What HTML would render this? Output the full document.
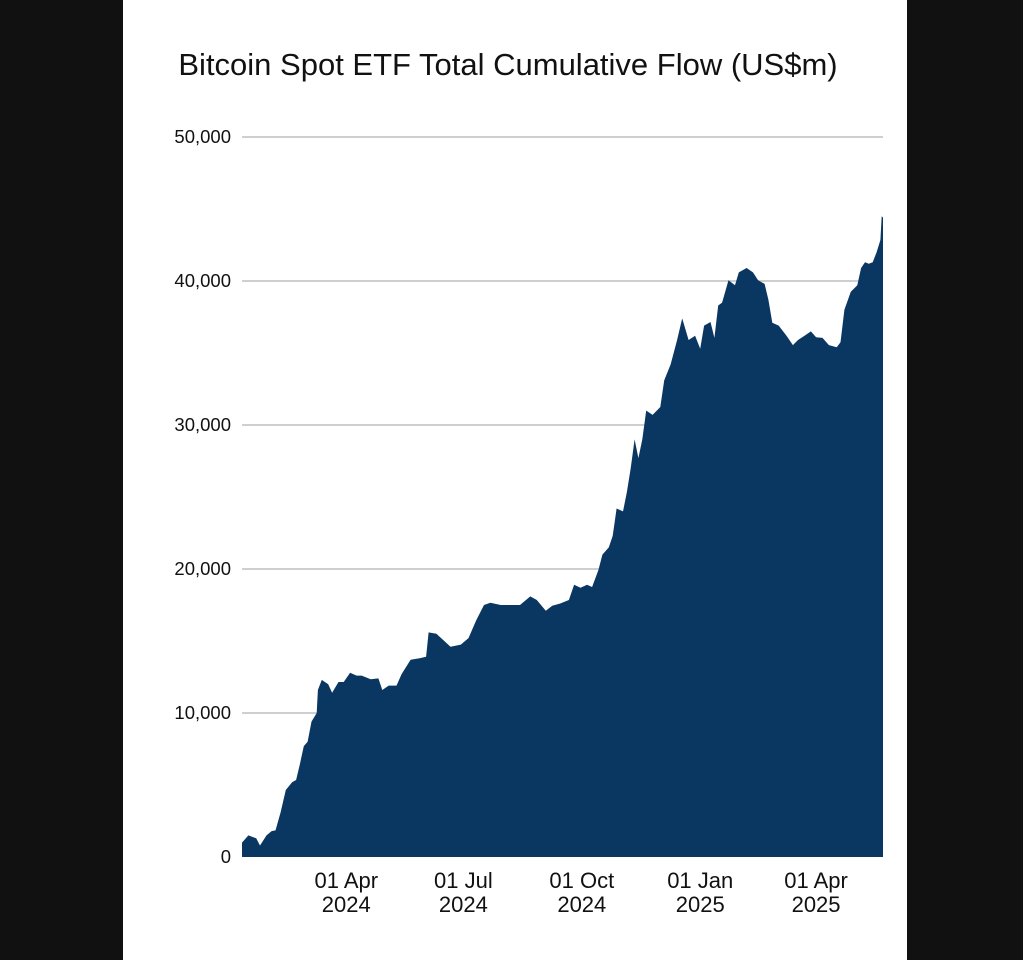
<!DOCTYPE html>
<html><head><meta charset="utf-8"><style>
html,body{margin:0;padding:0;background:#111111;}
body{width:1023px;height:960px;position:relative;overflow:hidden;font-family:"Liberation Sans",sans-serif;}
#panel{position:absolute;left:123px;top:0;width:784px;height:960px;background:#fff;}
</style></head><body>
<div id="panel"></div>
<svg id="chart" width="1023" height="960" style="position:absolute;left:0;top:0">
<text x="508" y="75" text-anchor="middle" font-size="31" fill="#111">Bitcoin Spot ETF Total Cumulative Flow (US$m)</text>
<g id="grid"></g><g id="area"></g><g id="xt"></g>
</svg>
<script>
const days=[0,5,11,14,19,23,26,30,34,39,42,45,48,51,54,58,59,62,67,70,75,79,84,89,93,100,106,109,114,120,124,131,138,143,145,151,156,162,170,176,182,188,193,201,208,216,224,229,236,241,247,254,258,263,268,272,277,280,285,288,291,296,299,302,305,308,311,314,319,325,328,333,338,342,347,352,356,359,364,367,370,373,378,383,386,392,397,401,406,409,412,417,423,428,432,437,442,446,451,456,462,465,468,473,478,481,484,487,490,493,496,497,498];
const values=[1000,1500,1300,800,1500,1800,1850,3100,4650,5200,5350,6450,7700,8000,9400,10000,11600,12300,12000,11400,12150,12150,12800,12600,12600,12350,12400,11600,11900,11900,12700,13700,13800,13900,15600,15500,15100,14600,14750,15200,16450,17500,17650,17500,17500,17500,18100,17850,17100,17450,17600,17850,18900,18700,18900,18750,19950,21000,21500,22300,24200,24000,25350,27000,29000,27700,29000,31000,30700,31250,33100,34200,35900,37400,35900,36200,35300,36900,37150,36050,38300,38500,40050,39700,40600,40900,40600,40050,39800,38700,37100,36900,36200,35550,35900,36200,36500,36100,36050,35550,35400,35750,38000,39250,39700,40900,41300,41200,41300,42000,42850,44500,44400];
const yTicks=[0,10000,20000,30000,40000,50000];
const yTickLabels=["0","10,000","20,000","30,000","40,000","50,000"];
const xTickDays=[81,172,264,356,446];
const xTickLabels=[["01 Apr","2024"],["01 Jul","2024"],["01 Oct","2024"],["01 Jan","2025"],["01 Apr","2025"]];
const X0=242,X1=883,DMAX=498,Y0=857,Y1=137,VMAX=50000;
const xs=d=>X0+(X1-X0)*d/DMAX, ys=v=>Y0-(Y0-Y1)*v/VMAX;
const NS="http://www.w3.org/2000/svg";
const grid=document.getElementById('grid');
yTicks.forEach((t,i)=>{
  if(t>0){const l=document.createElementNS(NS,'line');
  l.setAttribute('x1',X0);l.setAttribute('x2',X1);l.setAttribute('y1',ys(t));l.setAttribute('y2',ys(t));
  l.setAttribute('stroke','#cfcfcf');l.setAttribute('stroke-width','2');
  
  
  grid.appendChild(l);}
  const tx=document.createElementNS(NS,'text');
  tx.setAttribute('x',231);tx.setAttribute('y',ys(t)+6);tx.setAttribute('text-anchor','end');
  tx.setAttribute('font-size','18.5');tx.setAttribute('fill','#111');tx.textContent=yTickLabels[i];
  
  
  grid.appendChild(tx);
});
let d='M'+xs(days[0])+','+ys(0);
days.forEach((dd,i)=>{d+=' L'+xs(dd).toFixed(1)+','+ys(values[i]).toFixed(1);});
d+=' L'+xs(days[days.length-1])+','+ys(0)+' Z';
const p=document.createElementNS(NS,'path');
p.setAttribute('d',d);p.setAttribute('fill','#0a3761');


document.getElementById('area').appendChild(p);
const xt=document.getElementById('xt');
xTickDays.forEach((dd,i)=>{
  xTickLabels[i].forEach((s,j)=>{
    const tx=document.createElementNS(NS,'text');
    tx.setAttribute('x',xs(dd));tx.setAttribute('y',888+j*24);tx.setAttribute('text-anchor','middle');
    tx.setAttribute('font-size','22');tx.setAttribute('fill','#111');tx.textContent=s;
    
    
    xt.appendChild(tx);
  });
});
</script>
</body></html>
